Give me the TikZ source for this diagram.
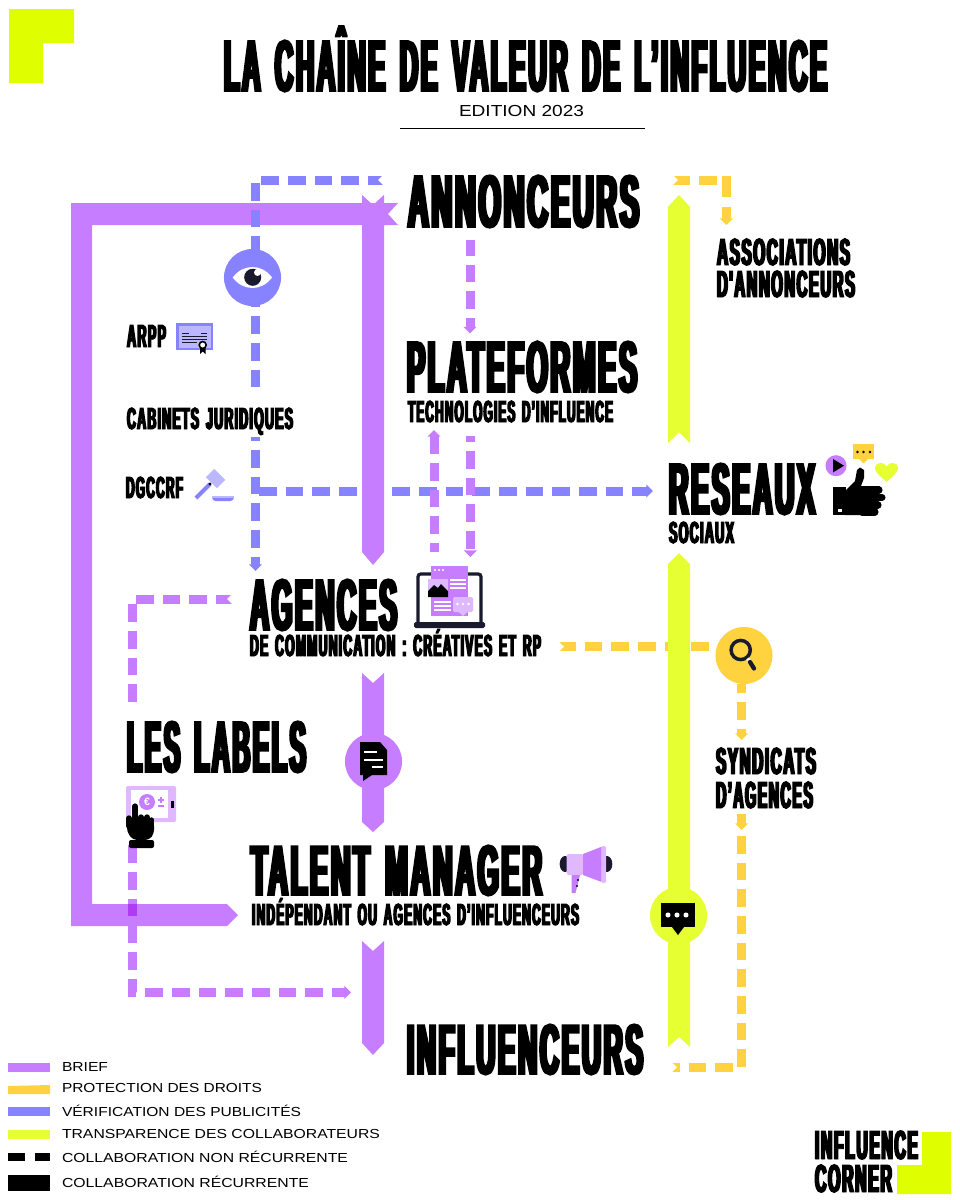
\documentclass[tikz,border=0pt]{standalone}
\usepackage{fontspec}
\usepackage{graphicx}
\usetikzlibrary{arrows.meta,calc}
\setmainfont{Liberation Sans}
\newfontfamily\hdfont[BoldFeatures={FakeStretch=0.15,FakeBold=2.1,LetterSpace=1.5,WordSpace=1.5}]{Liberation Sans}
\definecolor{logoY}{HTML}{DFFF00}
\definecolor{barY}{HTML}{E6FF33}
\definecolor{purp}{HTML}{C77DFF}
\definecolor{purpL}{HTML}{DFB8FF}
\definecolor{purpD}{HTML}{AF3BF5}
\definecolor{blu}{HTML}{8783FF}
\definecolor{bluL}{HTML}{BBB8FF}
\definecolor{oran}{HTML}{FFD23F}
\definecolor{ink}{HTML}{1A1A2E}
\newdimen\px \px=0.75pt
\newcommand\hfit[3]{\resizebox{#1\px}{#2\px}{\fontsize{40}{40}\hdfont\bfseries\smash{#3}\vphantom{H}}}
\newcommand\lfit[3]{\resizebox{#1\px}{#2\px}{\fontsize{20}{20}\selectfont\smash{#3}\vphantom{H}}}
% name, left x, baseline y, width, cap height, text
\newcommand\hlab[6]{\node[txt] (#1) at (#2,#3) {\hfit{#4}{#5}{#6}};}
\newcommand\llab[6]{\node[txt] (#1) at (#2,#3) {\lfit{#4}{#5}{#6}};}
\newcommand\notchR[1]{\fill[white] (#1)++(0.8,-5.6)--++(-5.8,5.6)--++(5.8,5.6)--cycle;}
\newcommand\notchU[1]{\fill[white] (#1)++(-5.6,-0.8)--++(5.6,5.8)--++(5.6,-5.8)--cycle;}
\newcommand\notchD[1]{\fill[white] (#1)++(-5.6,0.8)--++(5.6,-5.8)--++(5.6,5.8)--cycle;}
\newcommand\notchL[1]{\fill[white] (#1)++(-0.8,-5.6)--++(5.8,5.6)--++(-5.8,5.6)--cycle;}
\tikzset{
  txt/.style={anchor=base west,inner sep=0pt,outer sep=0pt},
  dsh/.style={line width=6.75pt,dash pattern=on 13.25pt off 6.75pt,dash phase=#1*0.75pt,line join=miter},
  dsh/.default=0,
  tipA/.style={-{Triangle[length=5pt,width=9.6pt]}},
  disc/.style={circle,inner sep=0pt,outer sep=0pt,minimum size=42.8pt},
}
\begin{document}
\begin{tikzpicture}[x=0.75pt,y=-0.75pt]
\useasboundingbox (0,0) rectangle (960,1200);
% logos
\fill[logoY] (9,9)--(74,9)--(74,43)--(43,43)--(43,83)--(9,83)--cycle;
\fill[logoY] (922,1132)--(951,1132)--(951,1194)--(897,1194)--(897,1165)--(922,1165)--cycle;
% free ends of the connectors
\coordinate (bA) at (383,180); \coordinate (bAc) at (255.5,180); \coordinate (bAe) at (255.5,388);
\coordinate (bB) at (255.5,437); \coordinate (bBe) at (255.5,571);
\coordinate (bH) at (259,491); \coordinate (bHe) at (653,491);
\coordinate (oM) at (559,646.7); \coordinate (oMe) at (716,646.7);
\coordinate (oT) at (673,180); \coordinate (oTe) at (717,180);
\coordinate (oV) at (726.3,176); \coordinate (oVe) at (726.3,225);
\coordinate (oS) at (741.7,684); \coordinate (oSe) at (741.7,740);
\coordinate (oR) at (741.7,814); \coordinate (oRe) at (741.7,830);
\coordinate (oL) at (741.7,836); \coordinate (oLc) at (741.7,1067.3); \coordinate (oLe) at (672,1067.3);
\coordinate (pP) at (470,239); \coordinate (pPe) at (470,333.5);
\coordinate (pU) at (434,553); \coordinate (pUe) at (434,430);
\coordinate (pD) at (470.3,435); \coordinate (pDe) at (470.3,557);
\coordinate (pL) at (232,599); \coordinate (pLc) at (132.3,599); \coordinate (pLe) at (132.3,702);
\coordinate (pM) at (132.3,845.3); \coordinate (pMc) at (132.3,992.3); \coordinate (pMe) at (351,992.3);
% under the bars
\draw[dsh,blu,tipA] (bH) -- (bHe);
\draw[dsh=1,oran] (oM) -- (oMe);
% thick purple bars
\fill[purp] (71,203)--(398,203)--(388,214)--(398,225)--(384,225)--(384,552)--(373,565)--(362,552)--(362,225)--(92,225)--(92,904)--(227,904)--(238,915)--(227,926)--(71,926)--cycle;
\fill[purp] (362,195)--(373,205)--(384,195)--(384,226)--(362,226)--cycle;
\fill[purp] (362,673)--(373,683)--(384,673)--(384,822)--(373,832)--(362,822)--cycle;
\fill[purp] (362,941)--(373,951)--(384,941)--(384,1043)--(373,1055)--(362,1043)--cycle;
% thick yellow bars
\fill[barY] (679,195)--(690,207)--(690,443)--(679,432)--(668,443)--(668,207)--cycle;
\fill[barY] (679,553)--(690,564)--(690,1047)--(679,1037)--(668,1047)--(668,564)--cycle;
% dashed connectors
\draw[dsh=2.7,blu] (bA) -- (bAc) -- (bAe);
\draw[dsh=13.7,blu,tipA] (bB) -- (bBe);
\draw[dsh=0.7,oran] (oT) -- (oTe);
\draw[line width=6.75pt,dash pattern=on 15.75pt off 7.25pt,oran,tipA] (oV) -- (oVe);
\draw[dsh=8.7,oran,tipA] (oS) -- (oSe);
\draw[oran,line width=6.75pt,tipA] (oR) -- (oRe);
\draw[dsh,oran] (oL) -- (oLc) -- (oLe);
\draw[dsh=1,purp,tipA] (pP) -- (pPe);
\draw[dsh=7.7,purp,tipA] (pU) -- (pUe);
\draw[dsh=10.7,purp,tipA] (pD) -- (pDe);
\draw[dsh=1.7,purp] (pL) -- (pLc) -- (pLe);
\draw[dsh,purp,tipA] (pM) -- (pMc) -- (pMe);
\fill[purpD] (127.8,904) rectangle (136.8,916.4);
% swallow tails
\notchR{bA}\notchL{oT}\notchL{oM}\notchL{oLe}\notchD{pP}\notchU{pU}\notchD{pD}\notchR{pL}
% discs on the lines
\node[disc,fill=blu] (eyeD) at (252.5,277.5) {};
\node[disc,fill=oran] (lensD) at (744,655.5) {};
\node[disc,fill=purp] (docD) at (373.5,761.5) {};
\node[disc,fill=barY] (chatD) at (678.5,915.5) {};
% eye
\fill[white] (232.7,277.5) .. controls (243,263.5) and (262,263.5) .. (272,277.5) .. controls (262,291.5) and (243,291.5) .. (232.7,277.5) -- cycle;
\fill[ink] (252.7,277.3) circle[radius=6.4pt];
\fill[white] (257.5,272.5) circle[radius=2.6pt];
% certificate
\fill[blu] (176,323) rectangle (213,350);
\fill[bluL] (178.5,325.5) rectangle (210.5,347.5);
\draw[ink,line width=0.7pt] (182,333)--(189,333) (201,333)--(207,333) (182,336)--(207,336) (182,339)--(207,339) (182,342)--(197,342);
\fill[black] (200,347)--(205.5,347)--(205.5,354)--(202.7,351.5)--(200,354)--cycle;
\draw[black,fill=white,line width=1.2pt] (202.7,345) circle[radius=2.6pt];
% gavel
\draw[bluL,line width=9pt] (210,473)--(221,484);
\draw[blu,line width=3pt] (196,498)--(210,484);
\fill[black] (210,484) circle[radius=1.2pt];
\fill[bluL] (212,496) rectangle (234,499);
\fill[blu,rounded corners=1pt] (212,498)--(234,498)--(232,501)--(214,501)--cycle;
% thumb, play, speech, heart
\fill[black] (833,487) rectangle (846,515);
\fill[black] (845,491)--(855,481)--(857,470)--(860,467.5)--(864,470)--(864,478)--(861,486)--(866,486)--(866,515)--(845,515)--cycle;
\draw[black,line width=5.3pt,line cap=round] (862,490)--(879,490) (862,497.5)--(882,497.5) (862,505)--(878,505) (862,512)--(875,512);
\fill[white] (838,509) rectangle (841.5,512);
\node[circle,fill=purp,inner sep=0pt,minimum size=15.8pt] (playD) at (836,465.7) {};
\fill[black] (833,459)--(844,465.7)--(833,472.5)--cycle;
\fill[oran] (853,444) rectangle (874,459);
\fill[oran] (859,459)--(863.5,463.5)--(868,459)--cycle;
\foreach \q in {857.5,863.5,870}{\fill[black] (\q,452) circle[radius=1.1pt];}
\fill[barY] (886.7,482) .. controls (880,476) and (875,472) .. (875,468.5) .. controls (875,462) and (884,461) .. (886.7,466.5) .. controls (889.5,461) and (898,462) .. (898,468.5) .. controls (898,472) and (893,476) .. (886.7,482) -- cycle;
% magnifier
\draw[ink,line width=2.6pt] (740.7,650) circle[radius=7.2pt];
\draw[white,line width=2.4pt] (747.5,658.5)--(749.5,661);
\draw[ink,line width=3.2pt,line cap=round] (750,662)--(754,668.5);
% laptop
\draw[ink,line width=2.4pt,rounded corners=2pt] (418,622)--(418,574)--(481,574)--(481,622);
\fill[ink,rounded corners=1.2pt] (414,622) rectangle (485,628);
\fill[purp] (431,566) rectangle (468,616);
\foreach \q in {435,439,443}{\fill[white] (\q,570) circle[radius=0.8pt];}
\fill[purpL] (428,579) rectangle (448,597);
\fill[black] (428,597)--(428,591)--(434,585)--(438,588)--(441,584)--(448,591)--(448,597)--cycle;
\draw[white,line width=0.9pt] (450,580)--(466,580) (450,584)--(466,584) (450,588)--(466,588) (434,602)--(451,602) (434,606)--(451,606) (434,610)--(451,610);
\fill[purpL,rounded corners=1pt] (453,597) rectangle (473,612);
\fill[purpL] (459,612)--(463,616)--(467,612)--cycle;
\foreach \q in {457.5,463,468.5}{\fill[white] (\q,604) circle[radius=1pt];}
% tablet and hand
\fill[purpL,rounded corners=1pt] (126,786) rectangle (176,822);
\fill[white] (131,790) rectangle (168,818);
\node[circle,fill=purp,inner sep=0pt,minimum size=12pt,text=white,font=\bfseries\fontsize{8}{8}\selectfont] (coin) at (147,802) {€};
\draw[purp,line width=0.9pt] (158,800)--(164,800) (161,797)--(161,803) (158,806)--(164,806);
\fill[black] (171,801) rectangle (174,808);
\draw[black,line width=4pt,line cap=round] (135,806)--(135,826) (141,817)--(141,826) (147,817)--(147,826) (151.5,820)--(151.5,828) (129,818)--(129,826);
\fill[black,rounded corners=3pt] (127,822)--(154,822)--(154,834)--(149,840)--(133,840)--(127,832)--cycle;
\fill[black,rounded corners=1.5pt] (129,840) rectangle (154,848);
% document
\fill[black] (360,742)--(380,742)--(387,750)--(387,775)--(372,775)--(363,781)--(363,775)--(360,775)--cycle;
\draw[white,line width=1.5pt] (364,752)--(377,752) (364,760)--(383,760) (372,767)--(383,767);
% megaphone
\fill[ink] (565,864) ellipse[x radius=4pt,y radius=6pt];
\fill[ink] (607,864) ellipse[x radius=4pt,y radius=6pt];
\fill[purpL,rounded corners=1pt] (566.7,854) rectangle (583,875);
\fill[purp] (583,854)--(601.7,846.7)--(601.7,882)--(583,875)--cycle;
\fill[purpL,rounded corners=1pt] (601.5,846) rectangle (606,883);
\fill[purp] (571.7,875)--(580,875)--(575.5,893)--(571.7,893)--cycle;
\fill[black] (578,880) circle[radius=0.8pt] (577,886) circle[radius=0.8pt];
% chat bubble
\fill[black] (661,903) rectangle (695,927);
\fill[black] (672,927)--(678,935)--(684,927)--cycle;
\foreach \q in {668,677,686}{\fill[white] (\q,915) circle[radius=1.9pt];}
% texts
\hlab{title}{224}{91}{603}{50}{LA CHAÎNE DE VALEUR DE L’INFLUENCE}
\llab{edition}{459}{116}{125}{11}{EDITION 2023}
\coordinate (ruleA) at (400,128); \coordinate (ruleB) at (645,128);
\draw[black,line width=0.75pt] (ruleA) -- (ruleB);
\hlab{annonceurs}{408}{227}{231}{51}{ANNONCEURS}
\hlab{assoc}{717}{265}{133}{26}{ASSOCIATIONS}
\hlab{dannon}{717}{297}{138}{26}{D'ANNONCEURS}
\hlab{arpp}{127}{347}{39}{22}{ARPP}
\hlab{cabinets}{127}{429}{166}{21}{CABINETS JURIDIQUES}
\hlab{dgccrf}{126}{498}{57}{21}{DGCCRF}
\hlab{plateformes}{407}{392}{230}{50}{PLATEFORMES}
\hlab{technos}{408}{422}{205}{21}{TECHNOLOGIES D’INFLUENCE}
\hlab{reseaux}{669}{514}{146}{50}{RESEAUX}
\hlab{sociaux}{669}{543}{65}{21}{SOCIAUX}
\hlab{agences}{250}{630}{147}{50}{AGENCES}
\hlab{decomm}{250}{656}{291}{21}{DE COMMUNICATION : CRÉATIVES ET RP}
\hlab{labels}{127}{772}{179}{50}{LES LABELS}
\hlab{talent}{251}{895}{291}{49}{TALENT MANAGER}
\hlab{indep}{252}{925}{327}{21}{INDÉPENDANT OU AGENCES D’INFLUENCEURS}
\hlab{influ}{407}{1074}{236}{49}{INFLUENCEURS}
\hlab{synd}{716}{774}{100}{26}{SYNDICATS}
\hlab{dagences}{716}{808}{97}{26}{D’AGENCES}
\hlab{icone}{815}{1159}{103}{28}{INFLUENCE}
\hlab{icorner}{815}{1192}{77}{27}{CORNER}
% legend
\fill[purp] (8,1063) rectangle (50,1072);
\fill[oran] (8,1086)--(50,1085)--(50,1094)--(8,1094)--cycle;
\fill[blu] (8,1107) rectangle (50,1116);
\fill[barY] (8,1130) rectangle (50,1139);
\fill[black] (8,1153) rectangle (25,1161);
\fill[black] (35,1153) rectangle (50,1161);
\fill[black] (8,1175) rectangle (50,1191);
\llab{lgA}{62}{1071}{46}{9}{BRIEF}
\llab{lgB}{62}{1092}{200}{9}{PROTECTION DES DROITS}
\llab{lgC}{62}{1116}{239}{9}{VÉRIFICATION DES PUBLICITÉS}
\llab{lgD}{62}{1138}{318}{9}{TRANSPARENCE DES COLLABORATEURS}
\llab{lgE}{62}{1162}{286}{9}{COLLABORATION NON RÉCURRENTE}
\llab{lgF}{62}{1187}{247}{9}{COLLABORATION RÉCURRENTE}
\end{tikzpicture}
\end{document}
